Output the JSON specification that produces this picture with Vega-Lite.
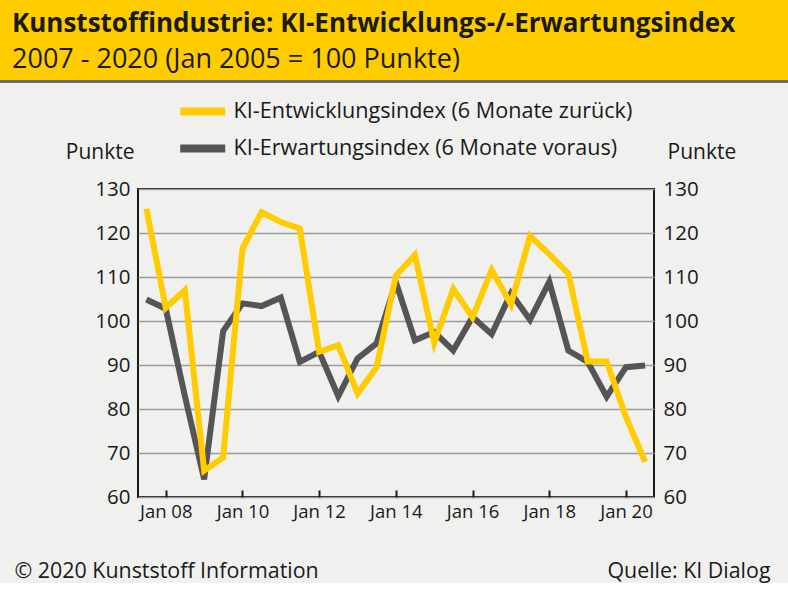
{
  "$schema": "https://vega.github.io/schema/vega-lite/v6.json",
  "background": "#f0f0ef",
  "padding": 0,
  "spacing": 0,
  "bounds": "flush",
  "config": {
    "font": "Open Sans",
    "view": {"stroke": null},
    "concat": {"spacing": 0}
  },
  "vconcat": [
    {
      "width": 788,
      "height": 80,
      "view": {"fill": "#FFCC00", "stroke": null},
      "title": {
        "text": "Kunststoffindustrie: KI-Entwicklungs-/-Erwartungsindex",
        "subtitle": "2007 - 2020 (Jan 2005 = 100 Punkte)",
        "anchor": "start",
        "frame": "group",
        "orient": "top",
        "offset": -73,
        "dx": 12,
        "font": "Open Sans",
        "fontSize": 26,
        "fontWeight": "bold",
        "color": "#1a1a1a",
        "subtitleFont": "Open Sans",
        "subtitleFontSize": 27,
        "subtitleColor": "#1a1a1a",
        "subtitlePadding": 10
      },
      "data": {"values": []},
      "mark": "point"
    },
    {
      "width": 788,
      "height": 3,
      "view": {"fill": "#6d6d6d", "stroke": null},
      "data": {"values": []},
      "mark": "point"
    },
    {
      "width": 788,
      "height": 106,
      "data": {"values": []},
      "mark": "point"
    },
    {
      "spacing": 0,
      "bounds": "flush",
      "hconcat": [
        {
          "width": 138,
          "height": 308,
          "data": {"values": []},
          "mark": "point"
        },
        {
          "width": 516,
          "height": 308,
          "view": {"stroke": "#1a1a1a", "strokeWidth": 2},
          "data": {
            "values": [
              {"date": "2007-07-01", "series": "KI-Erwartungsindex (6 Monate voraus)", "value": 104.9},
              {"date": "2008-01-01", "series": "KI-Erwartungsindex (6 Monate voraus)", "value": 102.8},
              {"date": "2008-07-01", "series": "KI-Erwartungsindex (6 Monate voraus)", "value": 83.0},
              {"date": "2009-01-01", "series": "KI-Erwartungsindex (6 Monate voraus)", "value": 64.0},
              {"date": "2009-07-01", "series": "KI-Erwartungsindex (6 Monate voraus)", "value": 97.7},
              {"date": "2010-01-01", "series": "KI-Erwartungsindex (6 Monate voraus)", "value": 104.0},
              {"date": "2010-07-01", "series": "KI-Erwartungsindex (6 Monate voraus)", "value": 103.4},
              {"date": "2011-01-01", "series": "KI-Erwartungsindex (6 Monate voraus)", "value": 105.3},
              {"date": "2011-07-01", "series": "KI-Erwartungsindex (6 Monate voraus)", "value": 90.7},
              {"date": "2012-01-01", "series": "KI-Erwartungsindex (6 Monate voraus)", "value": 93.0},
              {"date": "2012-07-01", "series": "KI-Erwartungsindex (6 Monate voraus)", "value": 82.9},
              {"date": "2013-01-01", "series": "KI-Erwartungsindex (6 Monate voraus)", "value": 91.5},
              {"date": "2013-07-01", "series": "KI-Erwartungsindex (6 Monate voraus)", "value": 94.9},
              {"date": "2014-01-01", "series": "KI-Erwartungsindex (6 Monate voraus)", "value": 108.8},
              {"date": "2014-07-01", "series": "KI-Erwartungsindex (6 Monate voraus)", "value": 95.6},
              {"date": "2015-01-01", "series": "KI-Erwartungsindex (6 Monate voraus)", "value": 97.5},
              {"date": "2015-07-01", "series": "KI-Erwartungsindex (6 Monate voraus)", "value": 93.3},
              {"date": "2016-01-01", "series": "KI-Erwartungsindex (6 Monate voraus)", "value": 100.9},
              {"date": "2016-07-01", "series": "KI-Erwartungsindex (6 Monate voraus)", "value": 97.0},
              {"date": "2017-01-01", "series": "KI-Erwartungsindex (6 Monate voraus)", "value": 106.3},
              {"date": "2017-07-01", "series": "KI-Erwartungsindex (6 Monate voraus)", "value": 100.3},
              {"date": "2018-01-01", "series": "KI-Erwartungsindex (6 Monate voraus)", "value": 108.9},
              {"date": "2018-07-01", "series": "KI-Erwartungsindex (6 Monate voraus)", "value": 93.3},
              {"date": "2019-01-01", "series": "KI-Erwartungsindex (6 Monate voraus)", "value": 90.7},
              {"date": "2019-07-01", "series": "KI-Erwartungsindex (6 Monate voraus)", "value": 82.8},
              {"date": "2020-01-01", "series": "KI-Erwartungsindex (6 Monate voraus)", "value": 89.5},
              {"date": "2020-07-01", "series": "KI-Erwartungsindex (6 Monate voraus)", "value": 89.9},
              {"date": "2007-07-01", "series": "KI-Entwicklungsindex (6 Monate zurück)", "value": 125.5},
              {"date": "2008-01-01", "series": "KI-Entwicklungsindex (6 Monate zurück)", "value": 103.0},
              {"date": "2008-07-01", "series": "KI-Entwicklungsindex (6 Monate zurück)", "value": 107.0},
              {"date": "2009-01-01", "series": "KI-Entwicklungsindex (6 Monate zurück)", "value": 66.0},
              {"date": "2009-07-01", "series": "KI-Entwicklungsindex (6 Monate zurück)", "value": 69.0},
              {"date": "2010-01-01", "series": "KI-Entwicklungsindex (6 Monate zurück)", "value": 116.5},
              {"date": "2010-07-01", "series": "KI-Entwicklungsindex (6 Monate zurück)", "value": 124.7},
              {"date": "2011-01-01", "series": "KI-Entwicklungsindex (6 Monate zurück)", "value": 122.5},
              {"date": "2011-07-01", "series": "KI-Entwicklungsindex (6 Monate zurück)", "value": 121.0},
              {"date": "2012-01-01", "series": "KI-Entwicklungsindex (6 Monate zurück)", "value": 93.0},
              {"date": "2012-07-01", "series": "KI-Entwicklungsindex (6 Monate zurück)", "value": 94.5},
              {"date": "2013-01-01", "series": "KI-Entwicklungsindex (6 Monate zurück)", "value": 83.5},
              {"date": "2013-07-01", "series": "KI-Entwicklungsindex (6 Monate zurück)", "value": 89.5},
              {"date": "2014-01-01", "series": "KI-Entwicklungsindex (6 Monate zurück)", "value": 110.3},
              {"date": "2014-07-01", "series": "KI-Entwicklungsindex (6 Monate zurück)", "value": 115.0},
              {"date": "2015-01-01", "series": "KI-Entwicklungsindex (6 Monate zurück)", "value": 95.0},
              {"date": "2015-07-01", "series": "KI-Entwicklungsindex (6 Monate zurück)", "value": 107.3},
              {"date": "2016-01-01", "series": "KI-Entwicklungsindex (6 Monate zurück)", "value": 100.8},
              {"date": "2016-07-01", "series": "KI-Entwicklungsindex (6 Monate zurück)", "value": 111.6},
              {"date": "2017-01-01", "series": "KI-Entwicklungsindex (6 Monate zurück)", "value": 103.8},
              {"date": "2017-07-01", "series": "KI-Entwicklungsindex (6 Monate zurück)", "value": 119.3},
              {"date": "2018-01-01", "series": "KI-Entwicklungsindex (6 Monate zurück)", "value": 115.2},
              {"date": "2018-07-01", "series": "KI-Entwicklungsindex (6 Monate zurück)", "value": 110.8},
              {"date": "2019-01-01", "series": "KI-Entwicklungsindex (6 Monate zurück)", "value": 90.8},
              {"date": "2019-07-01", "series": "KI-Entwicklungsindex (6 Monate zurück)", "value": 90.8},
              {"date": "2020-01-01", "series": "KI-Entwicklungsindex (6 Monate zurück)", "value": 78.2},
              {"date": "2020-07-01", "series": "KI-Entwicklungsindex (6 Monate zurück)", "value": 68.0}
            ]
          },
          "layer": [
            {
              "transform": [{"filter": "datum.series === 'KI-Erwartungsindex (6 Monate voraus)'"}],
              "mark": {"type": "line", "strokeWidth": 6, "strokeJoin": "miter", "strokeCap": "butt"},
              "encoding": {
                "x": {
                  "field": "date",
                  "type": "temporal",
                  "scale": {
                    "type": "utc",
                    "domain": [
                      {"year": 2007, "month": 4, "date": 12, "utc": true},
                      {"year": 2020, "month": 9, "date": 24, "utc": true}
                    ]
                  },
                  "axis": {
                    "orient": "bottom",
                    "values": [
                      {"year": 2008, "month": 1, "date": 1, "utc": true},
                      {"year": 2010, "month": 1, "date": 1, "utc": true},
                      {"year": 2012, "month": 1, "date": 1, "utc": true},
                      {"year": 2014, "month": 1, "date": 1, "utc": true},
                      {"year": 2016, "month": 1, "date": 1, "utc": true},
                      {"year": 2018, "month": 1, "date": 1, "utc": true},
                      {"year": 2020, "month": 1, "date": 1, "utc": true}
                    ],
                    "format": "%b %y",
                    "labelFont": "Open Sans",
                    "labelFontSize": 18.5,
                    "labelColor": "#1a1a1a",
                    "labelPadding": 12,
                    "ticks": true,
                    "tickSize": -7,
                    "tickWidth": 2,
                    "tickColor": "#1a1a1a",
                    "domain": false,
                    "grid": false,
                    "title": "© 2020 Kunststoff Information",
                    "titleX": -124,
                    "titleY": 80,
                    "titleAlign": "left",
                    "titleBaseline": "alphabetic",
                    "titleFont": "Open Sans",
                    "titleFontSize": 21.4,
                    "titleFontWeight": "normal",
                    "titleColor": "#1a1a1a"
                  }
                },
                "y": {
                  "field": "value",
                  "type": "quantitative",
                  "scale": {"domain": [60, 130], "nice": false, "zero": false},
                  "axis": {
                    "orient": "left",
                    "values": [60, 70, 80, 90, 100, 110, 120, 130],
                    "grid": true,
                    "gridColor": "#9a9a9a",
                    "gridWidth": 1.5,
                    "ticks": false,
                    "domain": false,
                    "labelPadding": 8,
                    "labelFont": "Open Sans",
                    "labelFontSize": 20.5,
                    "labelColor": "#1a1a1a",
                    "title": "Punkte",
                    "titleAngle": 0,
                    "titleX": -4,
                    "titleY": -31,
                    "titleAlign": "right",
                    "titleBaseline": "alphabetic",
                    "titleFont": "Open Sans",
                    "titleFontSize": 21,
                    "titleFontWeight": "normal",
                    "titleColor": "#1a1a1a"
                  }
                },
                "color": {
                  "field": "series",
                  "type": "nominal",
                  "scale": {
                    "domain": ["KI-Entwicklungsindex (6 Monate zurück)", "KI-Erwartungsindex (6 Monate voraus)"],
                    "range": ["#FFCC00", "#555557"]
                  },
                  "legend": {
                    "orient": "none",
                    "legendX": 176,
                    "legendY": 96,
                    "title": null,
                    "symbolType": "M-1,0H3",
                    "symbolSize": 506,
                    "symbolStrokeWidth": 8,
                    "labelFont": "Open Sans",
                    "labelFontSize": 21.6,
                    "labelColor": "#1a1a1a",
                    "labelOffset": 26.5,
                    "labelLimit": 600,
                    "rowPadding": 4,
                    "padding": 0
                  }
                }
              }
            },
            {
              "transform": [{"filter": "datum.series === 'KI-Entwicklungsindex (6 Monate zurück)'"}],
              "mark": {"type": "line", "strokeWidth": 6, "strokeJoin": "miter", "strokeCap": "butt"},
              "encoding": {
                "x": {
                  "field": "date",
                  "type": "temporal",
                  "scale": {
                    "type": "utc",
                    "domain": [
                      {"year": 2007, "month": 4, "date": 12, "utc": true},
                      {"year": 2020, "month": 9, "date": 24, "utc": true}
                    ]
                  },
                  "axis": {
                    "orient": "bottom",
                    "labels": false,
                    "ticks": false,
                    "domain": false,
                    "grid": false,
                    "title": "Quelle: KI Dialog",
                    "titleX": 632,
                    "titleY": 80,
                    "titleAlign": "right",
                    "titleBaseline": "alphabetic",
                    "titleFont": "Open Sans",
                    "titleFontSize": 21.4,
                    "titleFontWeight": "normal",
                    "titleColor": "#1a1a1a"
                  }
                },
                "y": {
                  "field": "value",
                  "type": "quantitative",
                  "scale": {"domain": [60, 130], "nice": false, "zero": false},
                  "axis": {
                    "orient": "right",
                    "values": [60, 70, 80, 90, 100, 110, 120, 130],
                    "grid": false,
                    "ticks": false,
                    "domain": false,
                    "labelPadding": 9,
                    "labelFont": "Open Sans",
                    "labelFontSize": 20.5,
                    "labelColor": "#1a1a1a",
                    "title": "Punkte",
                    "titleAngle": 0,
                    "titleX": 13,
                    "titleY": -31,
                    "titleAlign": "left",
                    "titleBaseline": "alphabetic",
                    "titleFont": "Open Sans",
                    "titleFontSize": 21,
                    "titleFontWeight": "normal",
                    "titleColor": "#1a1a1a"
                  }
                },
                "color": {
                  "field": "series",
                  "type": "nominal",
                  "scale": {
                    "domain": ["KI-Entwicklungsindex (6 Monate zurück)", "KI-Erwartungsindex (6 Monate voraus)"],
                    "range": ["#FFCC00", "#555557"]
                  }
                }
              }
            }
          ],
          "resolve": {"scale": {"x": "independent", "y": "independent"}}
        }
      ]
    },
    {
      "width": 788,
      "height": 93,
      "data": {"values": []},
      "mark": "point"
    }
  ]
}
